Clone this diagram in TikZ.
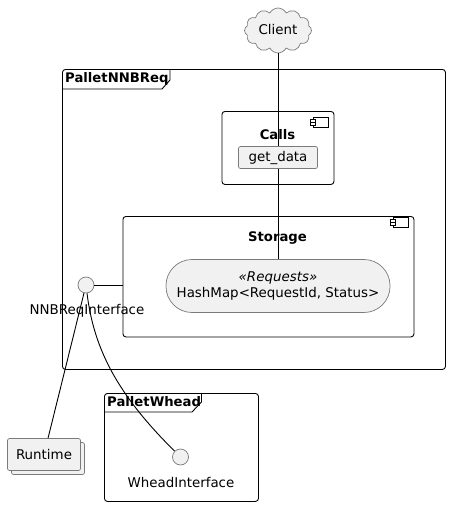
\documentclass[tikz,border=0pt]{standalone}
\usepackage{fontspec}
\setmainfont{DejaVu Sans}
\usetikzlibrary{shapes.symbols}
\definecolor{boxfill}{HTML}{F1F1F1}
\definecolor{boxline}{HTML}{7A7A7A}
\tikzset{
  package/.style={draw=black, line width=0.9pt, rounded corners=3pt, inner sep=0pt, anchor=north west},
  component/.style={package},
  tablabel/.style={font=\fontsize{13.2}{15}\selectfont\bfseries, inner sep=0pt, anchor=west},
  title/.style={font=\fontsize{13.2}{15}\selectfont\bfseries, inner sep=0pt},
  caption/.style={font=\fontsize{13.4}{16}\selectfont, inner sep=0pt},
  filled/.style={draw=boxline, fill=boxfill, line width=0.7pt},
  iface/.style={filled, circle, minimum size=16pt, inner sep=0pt},
  link/.style={draw=black, line width=0.9pt},
  compicon/.pic={
    \draw[black, line width=0.7pt] (-5.5,-5) rectangle (10,5);
    \draw[black, line width=0.7pt, fill=white] (-8,-3) rectangle (-3,0);
    \draw[black, line width=0.7pt, fill=white] (-8,0.5) rectangle (-3,3.5);
  }
}
\begin{document}
\begin{tikzpicture}[x=1pt, y=-1pt]
\useasboundingbox (0,0) rectangle (450,506);
% packages
\node[package, minimum width=383pt, minimum height=300pt] (nnbreq) at (62,69) {};
\draw[black, line width=0.9pt] (62,89) -- (162,89) -- (170,80) -- (170,69);
\node[tablabel] (nnbreqtab) at (65,79) {PalletNNBReq};
\node[package, minimum width=154pt, minimum height=108pt] (whead) at (104,393) {};
\draw[black, line width=0.9pt] (104,412) -- (192,412) -- (201.5,402) -- (201.5,393);
\node[tablabel] (wheadtab) at (107,402) {PalletWhead};
% components
\node[component, minimum width=112pt, minimum height=73pt] (calls) at (221.5,111) {};
\node[title] (callstitle) at (277.5,134.5) {Calls};
\node[filled, rounded corners=2pt, minimum width=79pt, minimum height=22pt, inner sep=0pt, caption] (getdata) at (278,157.5) {get\_data};
\pic at (318.5,122) {compicon};
\node[component, minimum width=291pt, minimum height=120.5pt] (storage) at (122.5,216) {};
\node[title] (storagetitle) at (277.5,238) {Storage};
\node[filled, rounded corners=26pt, minimum width=224pt, minimum height=53pt, inner sep=0pt, caption, align=center] (requests) at (278,286) {{\itshape «Requests»}\\HashMap<RequestId, Status>};
\pic at (398.5,222) {compicon};
% interfaces
\node[iface] (nnbif) at (86,285) {};
\node[caption] (nnbiflabel) at (87,311) {NNBReqInterface};
\node[iface] (wheadif) at (180.5,457) {};
\node[caption] (wheadiflabel) at (181,482) {WheadInterface};
% others
\node[cloud, cloud puffs=12, cloud puff arc=125, aspect=1.5, filled, minimum width=67pt, minimum height=45pt, inner sep=0pt] (client) at (278,30.5) {};
\node[caption] (clientlabel) at (278,30) {Client};
\node[filled, rounded corners=2pt, minimum width=73pt, minimum height=32pt] (runtimeback) at (48,458.5) {};
\node[filled, rounded corners=2pt, minimum width=73pt, minimum height=32pt, caption] (runtime) at (44,454.5) {Runtime};
% links
\draw[link] (getdata.north |- client.south) -- (getdata.north);
\draw[link] (getdata.south) -- (requests.north);
\draw[link] (nnbif) -- (storage.west |- nnbif);
\draw[link] (nnbif) -- (runtime);
\draw[link] (nnbif) .. controls (94,350) and (118,395) .. (wheadif);
\end{tikzpicture}
\end{document}
